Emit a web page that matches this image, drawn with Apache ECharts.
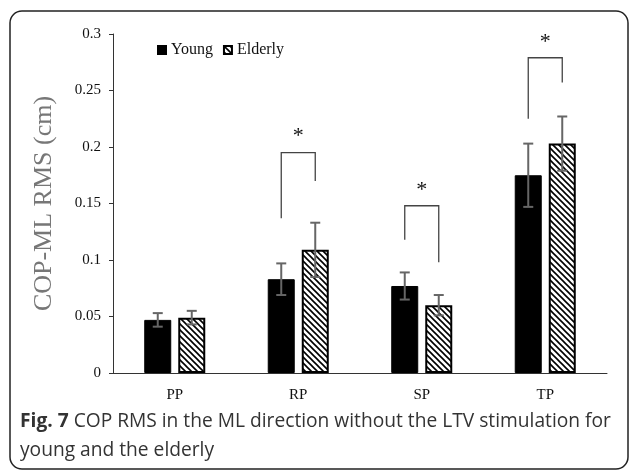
<!DOCTYPE html>
<html>
<head>
<meta charset="utf-8">
<script src="https://cdn.jsdelivr.net/npm/echarts@6/dist/echarts.min.js"></script>
<style>
  html, body { margin: 0; padding: 0; background: #fff; }
  #chart { width: 630px; height: 470px; }
</style>
</head>
<body>
<div id="chart"></div>
<script>
// values
const categories = ['PP', 'RP', 'SP', 'TP'];
const youngMean = [0.047, 0.083, 0.077, 0.175];
const youngErr = [0.006, 0.014, 0.012, 0.028];
const elderlyMean = [0.049, 0.109, 0.060, 0.203];
const elderlyErr = [0.006, 0.024, 0.009, 0.024];

// significance brackets: category index, bracket top, left leg end, right leg end
const sigIndex = [1, 2, 3];
const sigTop = [0.195, 0.148, 0.279];
const sigLeftEnd = [0.137, 0.118, 0.225];
const sigRightEnd = [0.170, 0.098, 0.257];

const BAR_W = 27;
const OFFSET = 17; // half of bar width + half gap

// hatch pattern for the elderly bars
function makeHatch() {
  const c = document.createElement('canvas');
  c.width = 6; c.height = 6;
  const ctx = c.getContext('2d');
  ctx.fillStyle = '#fff';
  ctx.fillRect(0, 0, 6, 6);
  ctx.strokeStyle = '#000';
  ctx.lineWidth = 1.6;
  ctx.beginPath();
  ctx.moveTo(-1, -1); ctx.lineTo(7, 7);
  ctx.moveTo(-1, 5); ctx.lineTo(1, 7);
  ctx.moveTo(5, -1); ctx.lineTo(7, 1);
  ctx.stroke();
  return c;
}
const hatch = { image: makeHatch(), repeat: 'repeat' };

const chart = echarts.init(document.getElementById('chart'));

function errorItem(offset) {
  return function (params, api) {
    const cat = api.value(0), m = api.value(1), e = api.value(2);
    const x = api.coord([cat, m])[0] + offset;
    const yt = api.coord([cat, m + e])[1];
    const yb = api.coord([cat, m - e])[1];
    const st = { stroke: '#666', lineWidth: 2 };
    return {
      type: 'group',
      children: [
        { type: 'line', shape: { x1: x, y1: yt, x2: x, y2: yb }, style: st },
        { type: 'line', shape: { x1: x - 5, y1: yt, x2: x + 5, y2: yt }, style: st },
        { type: 'line', shape: { x1: x - 5, y1: yb, x2: x + 5, y2: yb }, style: st }
      ]
    };
  };
}

chart.setOption({
  animation: false,
  textStyle: { fontFamily: 'Liberation Serif' },
  grid: { left: 113, right: 23, top: 34, bottom: 97 },
  legend: {
    data: ['Young', 'Elderly'],
    left: 152, top: 37,
    icon: 'rect',
    itemWidth: 8, itemHeight: 8, itemGap: 10,
    textStyle: { fontFamily: 'Liberation Serif', fontSize: 16, color: '#111' }
  },
  xAxis: {
    type: 'category',
    data: categories,
    axisLine: { lineStyle: { color: '#333', width: 1 } },
    axisTick: { length: 5, lineStyle: { color: '#333' } },
    axisLabel: { fontFamily: 'Liberation Serif', fontSize: 15, color: '#111', margin: 15 }
  },
  yAxis: {
    type: 'value',
    min: 0, max: 0.3, interval: 0.05,
    name: 'COP-ML RMS (cm)',
    nameLocation: 'middle',
    nameGap: 56,
    nameTextStyle: { fontFamily: 'Liberation Serif', fontSize: 26, color: '#777' },
    axisLine: { show: true, lineStyle: { color: '#333', width: 1 } },
    axisTick: { show: true, length: 4, lineStyle: { color: '#333' } },
    axisLabel: { fontFamily: 'Liberation Serif', fontSize: 15, color: '#111', margin: 12,
      formatter: v => String(+v.toFixed(2)) },
    splitLine: { show: false }
  },
  series: [
    {
      name: 'Young', type: 'bar', data: youngMean,
      barWidth: BAR_W, barGap: '26%',
      itemStyle: { color: '#000', borderColor: '#000', borderWidth: 1 }
    },
    {
      name: 'Elderly', type: 'bar', data: elderlyMean,
      barWidth: BAR_W,
      itemStyle: { color: hatch, borderColor: '#000', borderWidth: 2 }
    },
    {
      name: 'errY', type: 'custom', z: 5,
      data: youngMean.map((m, i) => [i, m, youngErr[i]]),
      renderItem: errorItem(-OFFSET)
    },
    {
      name: 'errE', type: 'custom', z: 5,
      data: elderlyMean.map((m, i) => [i, m, elderlyErr[i]]),
      renderItem: errorItem(OFFSET)
    },
    {
      name: 'sig', type: 'custom', z: 5,
      data: sigIndex.map((c, i) => [c, sigTop[i], sigLeftEnd[i], sigRightEnd[i]]),
      renderItem: function (params, api) {
        const cat = api.value(0);
        const top = api.coord([cat, api.value(1)]);
        const yl = api.coord([cat, api.value(2)])[1];
        const yr = api.coord([cat, api.value(3)])[1];
        const xl = top[0] - OFFSET, xr = top[0] + OFFSET;
        return {
          type: 'group',
          children: [
            { type: 'polyline',
              shape: { points: [[xl, yl], [xl, top[1]], [xr, top[1]], [xr, yr]] },
              style: { stroke: '#444', lineWidth: 1.3, fill: null } },
            { type: 'text',
              style: { x: top[0], y: top[1] - 5, text: '*', fill: '#111',
                font: '22px "Liberation Serif"', align: 'center', verticalAlign: 'bottom' } }
          ]
        };
      }
    }
  ],
  graphic: [
    { type: 'rect', silent: true,
      shape: { x: 10, y: 11, width: 618, height: 458, r: 12 },
      style: { fill: 'none', stroke: '#222', lineWidth: 1.5 } },
    { type: 'text', left: 20, top: 412,
      style: {
        text: '{b|Fig. 7} COP RMS in the ML direction without the LTV stimulation for',
        font: '19.2px "Open Sans"', fill: '#333',
        rich: { b: { fontFamily: 'Open Sans', fontSize: 19.2, fontWeight: 'bold', fill: '#333' } }
      } },
    { type: 'text', left: 20, top: 441,
      style: { text: 'young and the elderly', font: '19.2px "Open Sans"', fill: '#333' } }
  ]
});
</script>
</body>
</html>
